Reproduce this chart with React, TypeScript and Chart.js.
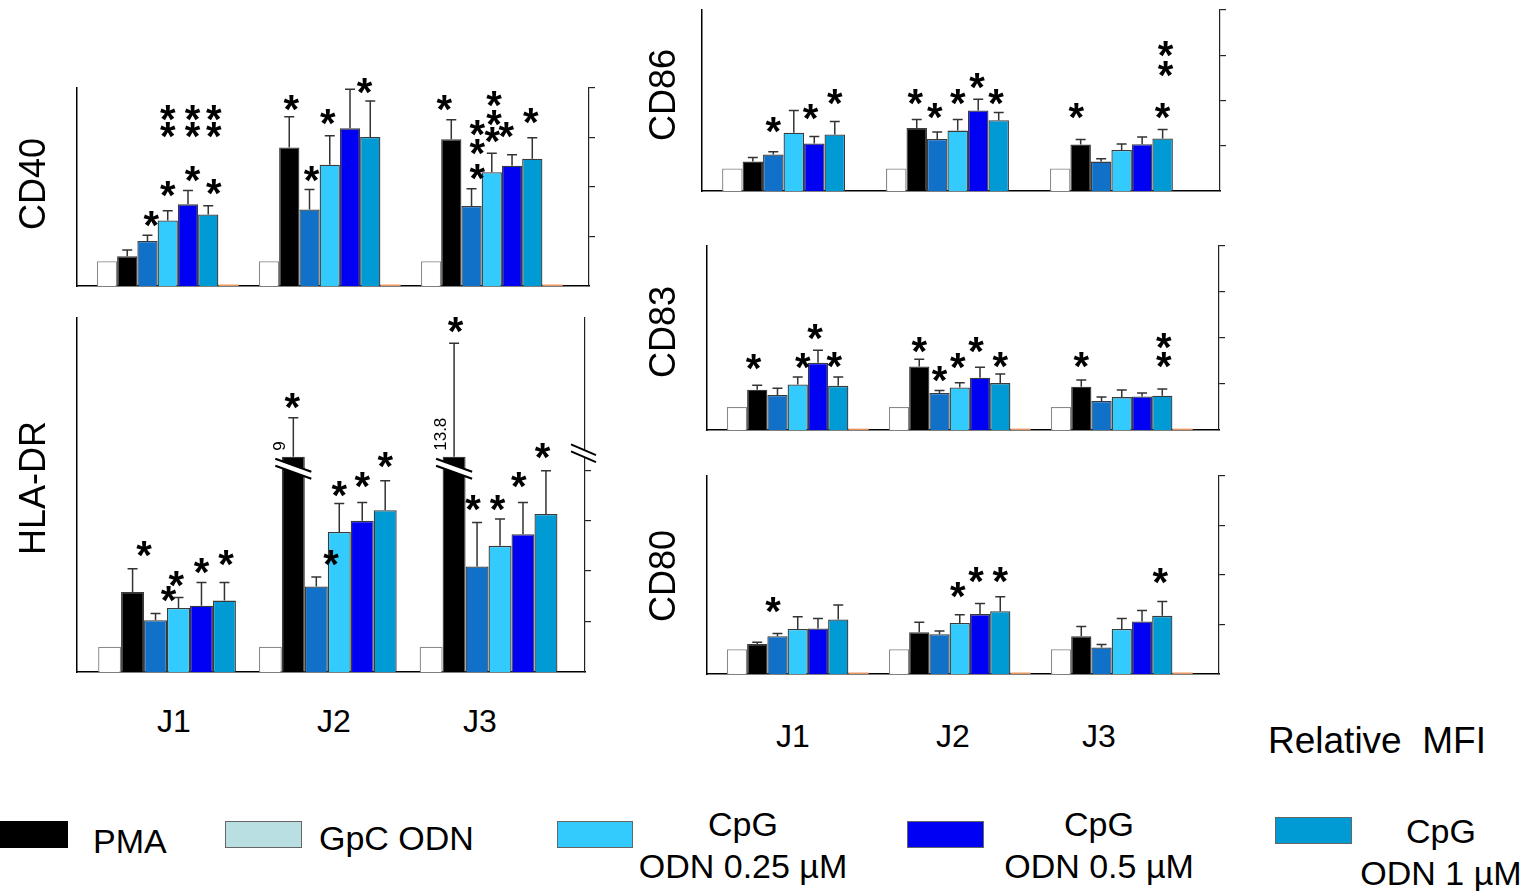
import React, { useEffect, useRef } from 'react';
import { Chart, registerables } from 'chart.js';

Chart.register(...registerables);

// ---------- data ----------
const GROUPS = ['J1', 'J2', 'J3'];
const SERIES = ['Control', 'PMA', 'GpC ODN', 'CpG ODN 0.25 µM', 'CpG ODN 0.5 µM', 'CpG ODN 1 µM'];
const SERIES_COLORS = ['#ffffff', '#000000', '#1170c7', '#33cbfd', '#0000f2', '#009bd5'];
const LEGEND_COLORS = ['#000000', '#b9dfe2', '#33cbfd', '#0000f2', '#009bd5'];
const LEGEND_LINES = [['PMA'], ['GpC ODN'], ['CpG', 'ODN 0.25 µM'], ['CpG', 'ODN 0.5 µM'], ['CpG', 'ODN 1 µM']];
const Y_TICKS = [2, 4, 6, 8];
const UNIT_LABEL = 'Relative  MFI';

const CONTROL = [1, 1, 1];
const BASE_MARK = [0.06, 0.06, 0.06];
const NO_MARK = [0, 0, 0];

// CD40
const CD40_PMA = [1.2, 5.6, 5.93];
const CD40_GPC = [1.82, 3.09, 3.23];
const CD40_C025 = [2.65, 4.9, 4.6];
const CD40_C05 = [3.3, 6.37, 4.86];
const CD40_C1 = [2.89, 6.02, 5.14];
const CD40_PMA_ERR = [1.45, 6.84, 6.72];
const CD40_GPC_ERR = [2.05, 3.9, 3.93];
const CD40_C025_ERR = [3.04, 6.07, 5.36];
const CD40_C05_ERR = [3.86, 7.95, 5.3];
const CD40_C1_ERR = [3.24, 7.47, 5.99];
// [group, series, level, dx]
const CD40_STARS = [
  [0, 2, 2.71, 0.19], [0, 3, 3.89, 0], [0, 3, 6.3, 0], [0, 3, 6.99, 0],
  [0, 4, 4.52, 0.23], [0, 4, 6.3, 0.23], [0, 4, 6.99, 0.23],
  [0, 5, 3.98, 0.27], [0, 5, 6.3, 0.27], [0, 5, 6.99, 0.27],
  [1, 1, 7.38, 0.1], [1, 2, 4.49, 0.1], [1, 3, 6.8, -0.1], [1, 5, 8.06, -0.28],
  [2, 1, 7.38, -0.34], [2, 2, 6.37, 0.29], [2, 2, 5.59, 0.29], [2, 2, 4.59, 0.29],
  [2, 3, 7.52, 0.11], [2, 3, 6.78, 0.11], [2, 3, 6.07, 0.03], [2, 4, 6.3, -0.29],
  [2, 5, 6.84, -0.07],
];

// HLA-DR
const HLA_PMA = [3.17, 9, 13.8];
const HLA_GPC = [2.05, 3.39, 4.18];
const HLA_C025 = [2.54, 5.55, 5.0];
const HLA_C05 = [2.63, 5.99, 5.46];
const HLA_C1 = [2.83, 6.41, 6.26];
const HLA_PMA_ERR = [4.09, 10.08, 13.03];
const HLA_GPC_ERR = [2.32, 3.77, 5.93];
const HLA_C025_ERR = [2.95, 6.68, 6.06];
const HLA_C05_ERR = [3.55, 6.72, 6.72];
const HLA_C1_ERR = [3.55, 7.58, 7.98];
const HLA_BREAK = 8.53;
const HLA_AXIS_BREAK = 8.67;
const HLA_STARS = [
  [0, 1, 4.86, 0.5], [0, 3, 3.07, -0.43], [0, 3, 3.68, -0.1], [0, 4, 4.19, 0], [0, 5, 4.5, 0.07],
  [1, 1, 10.71, -0.05], [1, 2, 4.5, 0.64], [1, 3, 7.25, 0], [1, 4, 7.6, 0], [1, 5, 8.4, 0],
  [2, 1, 13.75, 0.06], [2, 2, 6.7, -0.17], [2, 3, 6.7, -0.11], [2, 4, 7.6, -0.18], [2, 5, 8.73, -0.15],
];

// CD86
const CD86_PMA = [1.3, 2.79, 2.05];
const CD86_GPC = [1.61, 2.3, 1.3];
const CD86_C025 = [2.58, 2.67, 1.81];
const CD86_C05 = [2.1, 3.56, 2.07];
const CD86_C1 = [2.5, 3.13, 2.32];
const CD86_PMA_ERR = [1.48, 3.16, 2.28];
const CD86_GPC_ERR = [1.73, 2.61, 1.43];
const CD86_C025_ERR = [3.56, 3.16, 2.08];
const CD86_C05_ERR = [2.41, 4.05, 2.39];
const CD86_C1_ERR = [3.07, 3.47, 2.72];
const CD86_STARS = [
  [0, 2, 2.91, 0], [0, 4, 3.48, -0.18], [0, 5, 4.15, 0],
  [1, 1, 4.15, -0.07], [1, 2, 3.54, -0.12], [1, 3, 4.15, 0], [1, 4, 4.83, -0.06], [1, 5, 4.15, -0.13],
  [2, 1, 3.5, -0.21], [2, 5, 6.27, 0.14], [2, 5, 5.39, 0.14], [2, 5, 3.53, 0],
];

// CD83
const CD83_PMA = [1.75, 2.76, 1.88];
const CD83_GPC = [1.52, 1.61, 1.26];
const CD83_C025 = [1.98, 1.85, 1.43];
const CD83_C05 = [2.92, 2.27, 1.46];
const CD83_C1 = [1.92, 2.04, 1.49];
const CD83_PMA_ERR = [1.95, 3.08, 2.17];
const CD83_GPC_ERR = [1.82, 1.72, 1.43];
const CD83_C025_ERR = [2.3, 2.05, 1.74];
const CD83_C05_ERR = [3.47, 2.73, 1.61];
const CD83_C1_ERR = [2.3, 2.43, 1.78];
const CD83_STARS = [
  [0, 1, 2.93, -0.18], [0, 3, 2.98, 0.25], [0, 4, 4.24, -0.15], [0, 5, 3.02, -0.19],
  [1, 1, 3.66, 0], [1, 2, 2.4, 0], [1, 3, 2.98, -0.1], [1, 4, 3.66, -0.2], [1, 5, 3.02, 0],
  [2, 1, 3.02, 0], [2, 5, 3.85, 0.07], [2, 5, 3.02, 0.07],
];

// CD80
const CD80_PMA = [1.21, 1.69, 1.53];
const CD80_GPC = [1.53, 1.61, 1.07];
const CD80_C025 = [1.82, 2.06, 1.82];
const CD80_C05 = [1.84, 2.42, 2.12];
const CD80_C1 = [2.2, 2.54, 2.35];
const CD80_PMA_ERR = [1.28, 2.09, 1.92];
const CD80_GPC_ERR = [1.64, 1.74, 1.19];
const CD80_C025_ERR = [2.31, 2.39, 2.24];
const CD80_C05_ERR = [2.24, 2.85, 2.57];
const CD80_C1_ERR = [2.79, 3.12, 2.93];
const CD80_STARS = [
  [0, 2, 2.78, -0.22],
  [1, 3, 3.39, -0.1], [1, 4, 3.99, -0.2], [1, 5, 3.99, 0],
  [2, 5, 3.93, -0.1],
];

// ---------- layout ----------
const PL = 30, PT = 30, PR = 30, PB = 12, RIGHT_AXIS = 6;
const FONT = '"Liberation Sans", Arial, Helvetica, sans-serif';

const PANELS = [
  {
    id: 'CD40', area: [77, 88, 589, 286], yMax: 8, catPct: 7 / 8, mark: BASE_MARK,
    values: [CONTROL, CD40_PMA, CD40_GPC, CD40_C025, CD40_C05, CD40_C1],
    errors: [null, CD40_PMA_ERR, CD40_GPC_ERR, CD40_C025_ERR, CD40_C05_ERR, CD40_C1_ERR],
    stars: CD40_STARS, label: [33, 184],
  },
  {
    id: 'HLA-DR', area: [77, 318, 585, 672], yMax: 14.03, catPct: 6 / 7, mark: null,
    values: [CONTROL, HLA_PMA, HLA_GPC, HLA_C025, HLA_C05, HLA_C1],
    errors: [null, HLA_PMA_ERR, HLA_GPC_ERR, HLA_C025_ERR, HLA_C05_ERR, HLA_C1_ERR],
    stars: HLA_STARS, label: [33, 488], breakAt: HLA_BREAK, axisBreak: HLA_AXIS_BREAK,
  },
  {
    id: 'CD86', area: [702, 10, 1220, 191], yMax: 8, catPct: 7 / 8, mark: NO_MARK,
    values: [CONTROL, CD86_PMA, CD86_GPC, CD86_C025, CD86_C05, CD86_C1],
    errors: [null, CD86_PMA_ERR, CD86_GPC_ERR, CD86_C025_ERR, CD86_C05_ERR, CD86_C1_ERR],
    stars: CD86_STARS, label: [663, 95],
  },
  {
    id: 'CD83', area: [707, 246, 1219, 430], yMax: 8, catPct: 7 / 8, mark: BASE_MARK,
    values: [CONTROL, CD83_PMA, CD83_GPC, CD83_C025, CD83_C05, CD83_C1],
    errors: [null, CD83_PMA_ERR, CD83_GPC_ERR, CD83_C025_ERR, CD83_C05_ERR, CD83_C1_ERR],
    stars: CD83_STARS, label: [663, 332],
  },
  {
    id: 'CD80', area: [707, 476, 1219, 674], yMax: 8, catPct: 7 / 8, mark: BASE_MARK,
    values: [CONTROL, CD80_PMA, CD80_GPC, CD80_C025, CD80_C05, CD80_C1],
    errors: [null, CD80_PMA_ERR, CD80_GPC_ERR, CD80_C025_ERR, CD80_C05_ERR, CD80_C1_ERR],
    stars: CD80_STARS, label: [663, 576],
  },
];

const STAR_SIZE = 40;

function overlay(cfg: any) {
  return {
    id: 'overlay',
    afterDatasetsDraw(chart: any) {
      const ctx = chart.ctx;
      const ys = chart.scales.y;
      ctx.save();
      // error bars
      cfg.errors.forEach((errs: number[] | null, si: number) => {
        if (!errs) return;
        const meta = chart.getDatasetMeta(si);
        errs.forEach((e, gi) => {
          const bar = meta.data[gi];
          const top = ys.getPixelForValue(e);
          ctx.strokeStyle = '#333';
          ctx.lineWidth = 1.5;
          ctx.beginPath();
          ctx.moveTo(bar.x, bar.y);
          ctx.lineTo(bar.x, top);
          ctx.moveTo(bar.x - 5, top);
          ctx.lineTo(bar.x + 5, top);
          ctx.stroke();
        });
      });
      // broken bars
      if (cfg.breakAt != null) {
        const meta = chart.getDatasetMeta(1);
        cfg.values[1].forEach((v: number, gi: number) => {
          if (v <= cfg.breakAt) return;
          const bar = meta.data[gi];
          const c = bar.x, top = bar.y, w = bar.width;
          const x0 = c - 18, x1 = c + 18;
          ctx.fillStyle = '#fff';
          ctx.beginPath();
          ctx.moveTo(x0, top + 2);
          ctx.lineTo(x1, top + 15);
          ctx.lineTo(x1, top + 22);
          ctx.lineTo(x0, top + 9);
          ctx.closePath();
          ctx.fill();
          ctx.strokeStyle = '#000';
          ctx.lineWidth = 2.2;
          ctx.beginPath();
          ctx.moveTo(x0, top + 2); ctx.lineTo(x1, top + 15);
          ctx.moveTo(x0, top + 9); ctx.lineTo(x1, top + 22);
          ctx.stroke();
          // value label
          ctx.save();
          ctx.translate(c - w / 2 + 3, top - 6);
          ctx.rotate(-Math.PI / 2);
          ctx.font = '17px ' + FONT;
          ctx.fillStyle = '#000';
          ctx.textAlign = 'left';
          ctx.textBaseline = 'alphabetic';
          ctx.fillText(String(v), 0, 0);
          ctx.restore();
        });
      }
      // axis break on right axis
      if (cfg.axisBreak != null) {
        const ax = chart.chartArea.right;
        const yc = ys.getPixelForValue(cfg.axisBreak);
        ctx.fillStyle = '#fff';
        ctx.beginPath();
        ctx.moveTo(ax - 14, yc - 8.9);
        ctx.lineTo(ax + 11, yc + 1.9);
        ctx.lineTo(ax + 11, yc + 8.9);
        ctx.lineTo(ax - 14, yc - 1.9);
        ctx.closePath();
        ctx.fill();
        ctx.strokeStyle = '#000';
        ctx.lineWidth = 2;
        ctx.beginPath();
        ctx.moveTo(ax - 14, yc - 8.9); ctx.lineTo(ax + 11, yc + 1.9);
        ctx.moveTo(ax - 14, yc - 1.9); ctx.lineTo(ax + 11, yc + 8.9);
        ctx.stroke();
      }
      // significance stars
      ctx.font = 'bold ' + STAR_SIZE + 'px ' + FONT;
      ctx.fillStyle = '#000';
      ctx.textAlign = 'center';
      ctx.textBaseline = 'alphabetic';
      cfg.stars.forEach(([gi, si, level, dx]: number[]) => {
        const bar = chart.getDatasetMeta(si).data[gi];
        const px = bar.x + dx * bar.width;
        const py = ys.getPixelForValue(level);
        ctx.fillText('*', px, py + 0.49 * STAR_SIZE);
      });
      ctx.restore();
    },
  };
}

function Panel({ cfg }: { cfg: any }) {
  const ref = useRef<HTMLCanvasElement | null>(null);
  const [l, t, r, b] = cfg.area;
  const w = r - l + PL + PR + RIGHT_AXIS;
  const h = b - t + PT + PB;
  useEffect(() => {
    const datasets: any[] = cfg.values.map((vals: number[], si: number) => ({
      label: SERIES[si],
      data: vals.map((v, gi) => ({ x: gi, y: cfg.breakAt != null ? Math.min(v, cfg.breakAt) : v })),
      backgroundColor: SERIES_COLORS[si],
      borderColor: si === 0 ? '#8a8a8a' : '#3a3a3a',
      borderWidth: 1.3,
      categoryPercentage: cfg.catPct,
      barPercentage: 1,
    }));
    if (cfg.mark) {
      datasets.push({
        label: 'baseline',
        data: cfg.mark.map((v: number, gi: number) => ({ x: gi, y: v })),
        backgroundColor: '#ea9460',
        borderWidth: 0,
        categoryPercentage: cfg.catPct,
        barPercentage: 1,
      });
    }
    const chart = new Chart(ref.current as HTMLCanvasElement, {
      type: 'bar',
      data: { datasets },
      options: {
        responsive: false,
        animation: false,
        devicePixelRatio: 1,
        layout: { padding: { left: PL, top: PT, right: PR, bottom: PB } },
        plugins: { legend: { display: false }, tooltip: { enabled: false } },
        scales: {
          x: {
            type: 'linear',
            offset: false,
            min: -0.56,
            max: 2.6,
            afterBuildTicks: (s: any) => { s.ticks = GROUPS.map((_, i) => ({ value: i })); },
            afterFit: (s: any) => { s.height = 0; },
            grid: { display: false },
            ticks: { display: false },
            border: { display: true, color: '#000', width: 1.5 },
          },
          y: {
            min: 0,
            max: cfg.yMax,
            afterFit: (s: any) => { s.width = 0; },
            grid: { display: false },
            ticks: { display: false },
            border: { display: true, color: '#000', width: 1.5 },
          },
          y2: {
            position: 'right',
            min: 0,
            max: cfg.yMax,
            afterBuildTicks: (s: any) => { s.ticks = Y_TICKS.map((v) => ({ value: v })); },
            afterFit: (s: any) => { s.width = RIGHT_AXIS; },
            grid: { display: true, drawOnChartArea: false, drawTicks: true, tickLength: RIGHT_AXIS, color: '#222', lineWidth: 1.2 },
            ticks: { display: false },
            border: { display: true, color: '#222', width: 1.2 },
          },
        },
      } as any,
      plugins: [overlay(cfg)],
    });
    return () => chart.destroy();
  }, []);
  return (
    <canvas
      ref={ref}
      width={w}
      height={h}
      style={{ position: 'absolute', left: l - PL, top: t - PT, width: w, height: h }}
    />
  );
}

const J_ROWS = [
  { centers: [174, 334, 480], top: 705 },
  { centers: [793, 953, 1099], top: 720 },
];
const LEGEND_SWATCHES = [
  [0, 821, 68, 27], [225, 821, 77, 27], [557, 821, 76, 27], [907, 821, 77, 27], [1275, 817, 77, 27],
];
const LEGEND_TEXT_POS = [
  { left: 93, top: 824, center: false },
  { left: 319, top: 821, center: false },
  { left: 743, top: 803, center: true },
  { left: 1099, top: 803, center: true },
  { left: 1441, top: 810, center: true },
];

export default function App() {
  return (
    <div
      style={{
        position: 'absolute', left: 0, top: 0, width: 1537, height: 891,
        background: '#fff', overflow: 'hidden', fontFamily: FONT, color: '#000',
      }}
    >
      {PANELS.map((p) => (
        <Panel key={p.id} cfg={p} />
      ))}
      {PANELS.map((p) => (
        <div
          key={'lab' + p.id}
          style={{
            position: 'absolute', left: p.label[0], top: p.label[1], fontSize: 36, lineHeight: 1,
            whiteSpace: 'nowrap', transform: 'translate(-50%,-50%) rotate(-90deg)',
          }}
        >
          {p.id}
        </div>
      ))}
      {J_ROWS.map((row, ri) =>
        GROUPS.map((g, gi) => (
          <div
            key={'j' + ri + gi}
            style={{
              position: 'absolute', left: row.centers[gi], top: row.top, fontSize: 32, lineHeight: 1,
              transform: 'translateX(-50%)', whiteSpace: 'nowrap',
            }}
          >
            {g}
          </div>
        ))
      )}
      <div style={{ position: 'absolute', left: 1268, top: 722, fontSize: 37, lineHeight: 1, whiteSpace: 'pre' }}>
        {UNIT_LABEL}
      </div>
      {LEGEND_SWATCHES.map(([x, y, w, h], i) => (
        <div
          key={'sw' + i}
          style={{
            position: 'absolute', left: x, top: y, width: w, height: h, boxSizing: 'border-box',
            background: LEGEND_COLORS[i], border: i === 0 ? 'none' : '1px solid #666',
          }}
        />
      ))}
      {LEGEND_LINES.map((lines, i) => {
        const pos = LEGEND_TEXT_POS[i];
        return (
          <div
            key={'lt' + i}
            style={{
              position: 'absolute', left: pos.left, top: pos.top, fontSize: 34,
              lineHeight: lines.length > 1 ? '42px' : 1, whiteSpace: 'nowrap',
              textAlign: pos.center ? 'center' : 'left',
              transform: pos.center ? 'translateX(-50%)' : 'none',
            }}
          >
            {lines.map((ln, k) => (
              <div key={k}>{ln}</div>
            ))}
          </div>
        );
      })}
    </div>
  );
}
